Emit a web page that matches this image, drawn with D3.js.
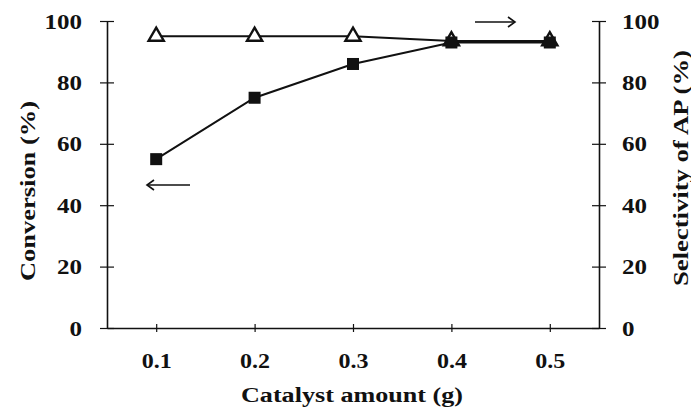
<!DOCTYPE html>
<html>
<head>
<meta charset="utf-8">
<script src="https://cdn.jsdelivr.net/npm/d3@7"></script>
<style>
  html, body { margin: 0; padding: 0; background: #fff; }
</style>
</head>
<body>
<svg id="chart" width="691" height="410"></svg>
<script>
// Catalyst loading study: conversion (left axis) and AP selectivity (right axis)
const catalystAmount = [0.1, 0.2, 0.3, 0.4, 0.5];
const conversion = [55, 75, 86, 93, 93];
const selectivity = [95, 95, 95, 93.5, 93.5];
const xTicks = [0.1, 0.2, 0.3, 0.4, 0.5];
const yTicks = [0, 20, 40, 60, 80, 100];

const svg = d3.select("#chart");
const plotLeft = 107, plotRight = 599, plotTop = 21, plotBottom = 328;
const serif = "'Liberation Serif', 'Times New Roman', Tinos, serif";

const x = d3.scaleLinear().domain([0.05, 0.55]).range([plotLeft, plotRight]);
const yL = d3.scaleLinear().domain([0, 100]).range([plotBottom, plotTop]);
const yR = d3.scaleLinear().domain([0, 100]).range([plotBottom, plotTop]);

const ink = "#111";

function styleText(sel, size) {
  sel.style("font-family", serif).style("font-weight", "bold")
    .style("font-size", size + "px").attr("fill", ink);
}

// widen glyphs to the wide serif look of the figure
function widen(sel, k) {
  sel.each(function () {
    const w = this.getComputedTextLength();
    d3.select(this).attr("textLength", w * k).attr("lengthAdjust", "spacingAndGlyphs");
  });
}

// x axis
const gx = svg.append("g").attr("transform", `translate(0,${plotBottom})`)
  .call(d3.axisBottom(x).tickValues(xTicks).tickSize(0).tickPadding(0).tickFormat(d3.format(".1f")));
gx.select(".domain").attr("stroke", ink).attr("stroke-width", 1.6);
gx.selectAll(".tick line").attr("y1", -4).attr("y2", 4).attr("stroke", ink).attr("stroke-width", 1.2);
gx.selectAll(".tick text").attr("y", 40).attr("dy", 0);

// left axis
const gl = svg.append("g").attr("transform", `translate(${plotLeft},0)`)
  .call(d3.axisLeft(yL).tickValues(yTicks).tickSize(0).tickPadding(0));
gl.select(".domain").attr("stroke", ink).attr("stroke-width", 1.6);
gl.selectAll(".tick line").attr("x1", -7).attr("x2", 7).attr("stroke", ink).attr("stroke-width", 1.2);
gl.selectAll(".tick text").attr("x", -25).attr("dy", "0.35em");

// right axis
const gr = svg.append("g").attr("transform", `translate(${plotRight},0)`)
  .call(d3.axisRight(yR).tickValues(yTicks).tickSize(0).tickPadding(0));
gr.select(".domain").attr("stroke", ink).attr("stroke-width", 1.6);
gr.selectAll(".tick line").attr("x1", -7).attr("x2", 7).attr("stroke", ink).attr("stroke-width", 1.2);
gr.selectAll(".tick text").attr("x", 23).attr("dy", "0.35em");

[gx, gl, gr].forEach(g => {
  g.attr("font-family", null).attr("font-size", null);
  styleText(g.selectAll(".tick text"), 20);
});
widen(gx.selectAll(".tick text"), 1.2);
widen(gl.selectAll(".tick text"), 1.25);
widen(gr.selectAll(".tick text"), 1.25);

// axis titles
styleText(svg.append("text").attr("x", 352).attr("y", 402).attr("text-anchor", "middle")
  .attr("textLength", 222).attr("lengthAdjust", "spacingAndGlyphs")
  .text("Catalyst amount (g)"), 20);
styleText(svg.append("text").attr("transform", "translate(35,191) rotate(-90)").attr("text-anchor", "middle")
  .attr("textLength", 180).attr("lengthAdjust", "spacingAndGlyphs")
  .text("Conversion (%)"), 20);
styleText(svg.append("text").attr("transform", "translate(688,168) rotate(-90)").attr("text-anchor", "middle")
  .attr("textLength", 236).attr("lengthAdjust", "spacingAndGlyphs")
  .text("Selectivity of AP (%)"), 20);

// series lines
const lineSel = d3.line().x((d, i) => x(catalystAmount[i])).y(d => yR(d));
const lineConv = d3.line().x((d, i) => x(catalystAmount[i])).y(d => yL(d));

svg.append("path").datum(selectivity).attr("d", lineSel)
  .attr("fill", "none").attr("stroke", ink).attr("stroke-width", 2);
svg.append("path").datum(conversion).attr("d", lineConv)
  .attr("fill", "none").attr("stroke", ink).attr("stroke-width", 2);

// selectivity markers: open triangles
const tri = d3.symbol().type(d3.symbolTriangle).size(100);
svg.selectAll(".tri").data(selectivity).join("path")
  .attr("class", "tri")
  .attr("transform", (d, i) => `translate(${x(catalystAmount[i])},${yR(d)})`)
  .attr("d", tri).attr("fill", "#fff").attr("stroke", ink).attr("stroke-width", 2.4);

// conversion markers: filled squares
svg.selectAll(".sq").data(conversion).join("rect")
  .attr("class", "sq")
  .attr("x", (d, i) => x(catalystAmount[i]) - 6).attr("y", d => yL(d) - 6)
  .attr("width", 12).attr("height", 12).attr("fill", ink);

// arrows showing which axis each series belongs to
const arrow = (x1, x2, y) => {
  svg.append("line").attr("x1", x1).attr("x2", x2).attr("y1", y).attr("y2", y)
    .attr("stroke", ink).attr("stroke-width", 1.6);
  const dir = Math.sign(x2 - x1);
  svg.append("path")
    .attr("d", `M${x2 - dir * 7},${y - 5} L${x2},${y} L${x2 - dir * 7},${y + 5}`)
    .attr("fill", "none").attr("stroke", ink).attr("stroke-width", 1.6);
};
arrow(190, 147, 185);
arrow(475, 515, 22);
</script>
</body>
</html>
